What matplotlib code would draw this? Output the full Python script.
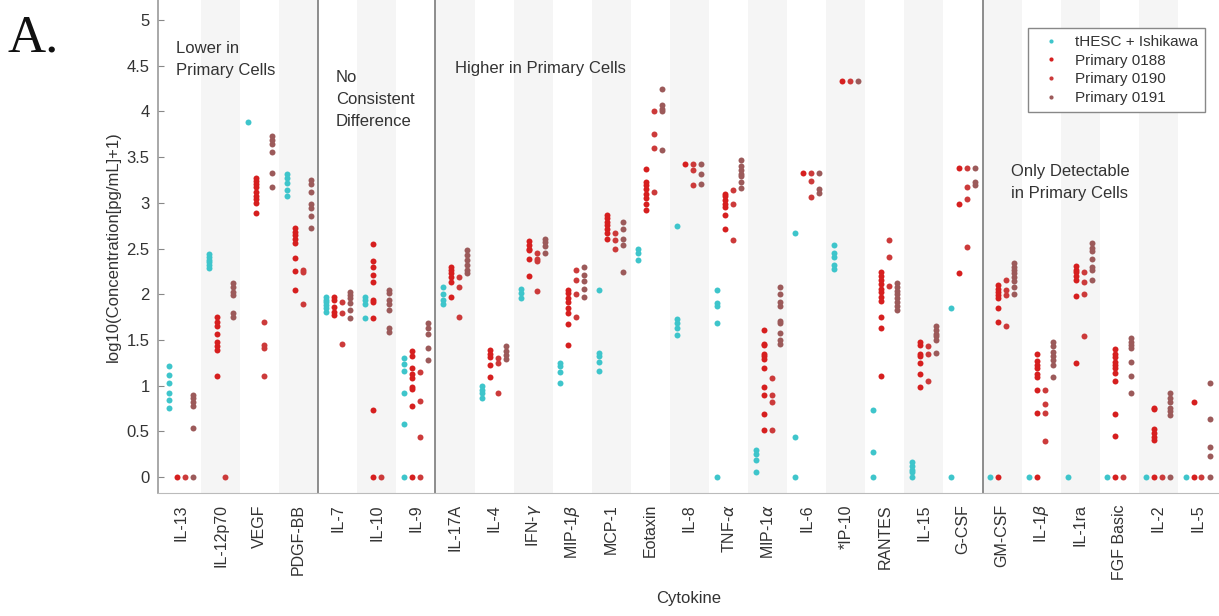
import numpy as np
import matplotlib.pyplot as plt

plt.rcParams['font.family'] = ['Liberation Sans', 'DejaVu Sans']

# ------------ Data ---------------
cytokines = ['IL-13', 'IL-12p70', 'VEGF', 'PDGF-BB', 'IL-7', 'IL-10', 'IL-9',
             'IL-17A', 'IL-4', r'IFN-$\gamma$', r'MIP-1$\beta$', 'MCP-1', 'Eotaxin',
             'IL-8', r'TNF-$\alpha$', r'MIP-1$\alpha$', 'IL-6', '*IP-10', 'RANTES',
             'IL-15', 'G-CSF', 'GM-CSF', r'IL-1$\beta$', 'IL-1ra', 'FGF Basic',
             'IL-2', 'IL-5']

thesc = [
    [1.22, 1.12, 1.03, 0.92, 0.84, 0.76],
    [2.44, 2.41, 2.38, 2.35, 2.32, 2.29],
    [3.88],
    [3.32, 3.27, 3.22, 3.14, 3.07],
    [1.97, 1.94, 1.91, 1.88, 1.85, 1.81],
    [1.97, 1.94, 1.89, 1.74],
    [1.30, 1.24, 1.16, 0.92, 0.58, 0.0],
    [2.08, 2.00, 1.94, 1.89],
    [1.00, 0.95, 0.92, 0.87],
    [2.06, 2.01, 1.96],
    [1.25, 1.21, 1.15, 1.03],
    [2.05, 1.36, 1.32, 1.26, 1.16],
    [2.50, 2.45, 2.37],
    [2.75, 1.73, 1.68, 1.63, 1.55],
    [2.05, 1.90, 1.87, 1.68, 0.0],
    [0.30, 0.25, 0.19, 0.05],
    [2.67, 0.44, 0.0],
    [2.54, 2.45, 2.41, 2.32, 2.28],
    [0.73, 0.27, 0.0],
    [0.16, 0.12, 0.08, 0.05, 0.0],
    [1.85, 0.0],
    [0.0], [0.0], [0.0], [0.0], [0.0], [0.0],
]

p0188 = [
    [0.0],
    [1.75, 1.70, 1.65, 1.56, 1.48, 1.43, 1.39, 1.10],
    [3.27, 3.24, 3.21, 3.17, 3.12, 3.08, 3.04, 3.00, 2.89],
    [2.72, 2.68, 2.65, 2.61, 2.56, 2.40, 2.25, 2.05],
    [1.97, 1.94, 1.86, 1.81, 1.77],
    [2.55, 2.36, 2.30, 2.21, 2.13, 1.94, 1.91, 1.74, 0.73, 0.0],
    [1.38, 1.32, 1.19, 1.13, 1.08, 0.99, 0.96, 0.78, 0.0],
    [2.30, 2.27, 2.23, 2.19, 2.13, 1.97],
    [1.39, 1.35, 1.31, 1.23, 1.09],
    [2.58, 2.54, 2.50, 2.48, 2.39, 2.20],
    [2.05, 2.01, 1.96, 1.91, 1.85, 1.79, 1.67, 1.44],
    [2.87, 2.83, 2.79, 2.76, 2.71, 2.67, 2.60],
    [3.37, 3.23, 3.20, 3.15, 3.10, 3.05, 2.99, 2.92],
    [3.43],
    [3.10, 3.07, 3.03, 2.99, 2.96, 2.87, 2.71],
    [1.61, 1.46, 1.44, 1.35, 1.32, 1.29, 1.19, 0.98, 0.90, 0.69, 0.51],
    [3.33],
    [4.33],
    [2.24, 2.20, 2.16, 2.11, 2.06, 2.02, 1.97, 1.93, 1.75, 1.63, 1.11],
    [1.48, 1.44, 1.35, 1.32, 1.25, 1.13, 0.99],
    [3.38, 2.99, 2.23],
    [2.10, 2.06, 2.03, 1.99, 1.96, 1.85, 1.70, 0.0],
    [1.35, 1.27, 1.23, 1.19, 1.13, 1.09, 0.95, 0.70, 0.0],
    [2.31, 2.27, 2.24, 2.20, 2.16, 1.98, 1.25],
    [1.40, 1.35, 1.31, 1.26, 1.23, 1.19, 1.14, 1.05, 0.69, 0.45, 0.0],
    [0.76, 0.74, 0.52, 0.48, 0.44, 0.41, 0.0],
    [0.82, 0.0],
]

p0190 = [
    [0.0],
    [0.0],
    [1.70, 1.44, 1.41, 1.11],
    [2.27, 2.24, 1.89],
    [1.92, 1.80, 1.46],
    [0.0],
    [1.15, 0.83, 0.44, 0.0],
    [2.19, 2.08, 1.75],
    [1.30, 1.25, 0.92],
    [2.45, 2.39, 2.36, 2.04],
    [2.27, 2.16, 2.00, 1.75],
    [2.67, 2.59, 2.50],
    [4.00, 3.75, 3.60, 3.12],
    [3.43, 3.36, 3.20],
    [3.14, 2.99, 2.59],
    [1.08, 0.90, 0.82, 0.51],
    [3.33, 3.24, 3.06],
    [4.33],
    [2.59, 2.41, 2.09],
    [1.43, 1.35, 1.05],
    [3.38, 3.17, 3.04, 2.52],
    [2.16, 2.05, 1.99, 1.65],
    [0.95, 0.80, 0.70, 0.39],
    [2.24, 2.13, 2.00, 1.54],
    [0.0],
    [0.0],
    [0.0],
]

p0191 = [
    [0.90, 0.86, 0.82, 0.78, 0.54, 0.0],
    [2.12, 2.08, 2.03, 1.99, 1.79, 1.75],
    [3.73, 3.69, 3.64, 3.56, 3.33, 3.17],
    [3.25, 3.21, 3.12, 2.99, 2.94, 2.86, 2.72],
    [2.03, 1.99, 1.96, 1.90, 1.83, 1.74],
    [2.05, 2.01, 1.94, 1.89, 1.83, 1.63, 1.59],
    [1.68, 1.63, 1.57, 1.41, 1.28],
    [2.48, 2.43, 2.37, 2.32, 2.27, 2.23],
    [1.43, 1.38, 1.34, 1.29],
    [2.60, 2.57, 2.53, 2.45],
    [2.30, 2.21, 2.14, 2.06, 1.97],
    [2.79, 2.71, 2.60, 2.54, 2.24],
    [4.25, 4.07, 4.03, 4.00, 3.58],
    [3.43, 3.32, 3.21],
    [3.47, 3.40, 3.36, 3.32, 3.29, 3.23, 3.16],
    [2.08, 2.00, 1.92, 1.87, 1.71, 1.68, 1.58, 1.50, 1.46],
    [3.33, 3.15, 3.11],
    [4.33],
    [2.12, 2.08, 2.04, 2.00, 1.96, 1.92, 1.87, 1.83],
    [1.65, 1.61, 1.57, 1.54, 1.50, 1.36],
    [3.38, 3.23, 3.20],
    [2.34, 2.30, 2.27, 2.23, 2.19, 2.14, 2.08, 2.00],
    [1.48, 1.43, 1.37, 1.32, 1.28, 1.23, 1.09],
    [2.56, 2.51, 2.47, 2.39, 2.30, 2.27, 2.16],
    [1.52, 1.48, 1.44, 1.41, 1.26, 1.10, 0.92],
    [0.92, 0.87, 0.82, 0.76, 0.72, 0.68, 0.0],
    [1.03, 0.64, 0.33, 0.23, 0.0],
]

series = [thesc, p0188, p0190, p0191]
labels = ['tHESC + Ishikawa', 'Primary 0188', 'Primary 0190', 'Primary 0191']
colors = ['#3ec5cb', '#d61f1f', '#cc3a3a', '#9c5a5a']
offsets = [-0.307, -0.102, 0.102, 0.307]

# ------------ Plot ---------------
fig = plt.figure(figsize=(12.19, 6.16), dpi=100)
ax = fig.add_axes([158 / 1219, 1 - 493 / 616, 1061 / 1219, 493 / 616])

n = len(cytokines)
for i in range(1, n, 2):
    ax.axvspan(i - 0.5, i + 0.5, color='#f5f5f5', lw=0, zorder=0)

for sep in [3.5, 6.5, 20.5]:
    ax.axvline(sep, color='#7a7a7a', lw=1.2, zorder=1)

for s, lab, col, off in zip(series, labels, colors, offsets):
    xs, ys = [], []
    for i, vals in enumerate(s):
        xs += [i + off] * len(vals)
        ys += vals
    ax.plot(xs, ys, 'o', ms=4.3, mec='none', color=col, label=lab, zorder=3)

ax.set_xlim(-0.6, 26.55)
ax.set_ylim(-0.175, 5.22)
ax.set_xticks(range(n))
ax.set_xticklabels(cytokines, rotation=90, fontsize=11.5, color='#333333')
ax.set_yticks(np.arange(0, 5.01, 0.5))
ax.set_yticklabels(['0', '0.5', '1', '1.5', '2', '2.5', '3', '3.5', '4', '4.5', '5'])
ax.tick_params(axis='y', direction='in', length=4, labelsize=12, colors='#888888',
               labelcolor='#333333', pad=6)
ax.tick_params(axis='x', length=0, pad=8)

for side in ['top', 'right']:
    ax.spines[side].set_visible(False)
ax.spines['left'].set_color('#999999')
ax.spines['left'].set_linewidth(1.2)
ax.spines['bottom'].set_color('#bbbbbb')

ax.set_ylabel('log10(Concentration[pg/mL]+1)', fontsize=12, color='#333333', labelpad=4)
ax.set_xlabel('Cytokine', fontsize=12, color='#333333', labelpad=8)

txt = dict(fontsize=12, color='#333333', va='center', ha='left')
ax.text(-0.15, 4.57, 'Lower in\nPrimary Cells', linespacing=1.6, **txt)
ax.text(3.95, 4.13, 'No\nConsistent\nDifference', linespacing=1.6, **txt)
ax.text(7.0, 4.47, 'Higher in Primary Cells', **txt)
ax.text(21.24, 3.22, 'Only Detectable\nin Primary Cells', linespacing=1.6, **txt)

leg = ax.legend(loc='upper right', bbox_to_anchor=(0.994, 0.958), fontsize=11,
                markerscale=0.7, handletextpad=0.6, borderpad=0.45,
                labelspacing=0.3, fancybox=False, framealpha=1)
leg.get_frame().set_edgecolor('#888888')
for t in leg.get_texts():
    t.set_color('#333333')

fig.text(8 / 1219, 1 - 52 / 616, 'A.', fontsize=38, family='Liberation Serif',
         color='#111111', va='baseline', ha='left')

fig.savefig('out.png', dpi=100)
